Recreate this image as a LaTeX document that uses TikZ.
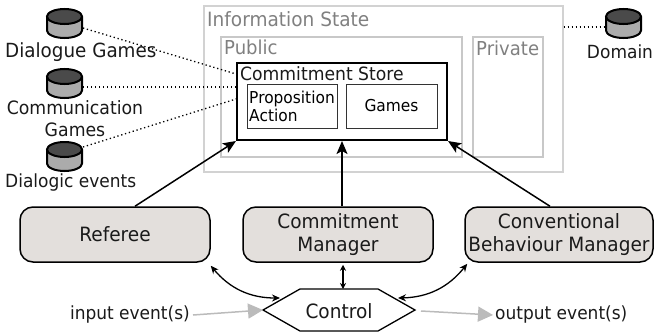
\documentclass[tikz,border=0pt]{standalone}
\usepackage{fontspec}
\setmainfont{DejaVu Sans}[FakeStretch=0.94]
\usetikzlibrary{arrows.meta}
\definecolor{boxfill}{HTML}{E3DFDC}
\definecolor{istate}{HTML}{D2D2D2}
\definecolor{pubc}{HTML}{C8C8C8}
\definecolor{graytext}{HTML}{808080}
\definecolor{cyltop}{HTML}{4A4A4A}
\definecolor{cylbody}{HTML}{ABABAB}
\definecolor{evgray}{HTML}{BBBBBB}
\definecolor{txt}{HTML}{1A1A1A}
\begin{document}
\begin{tikzpicture}[x=1pt,y=-1pt,
  comp/.style={draw=black, line width=1.5pt, fill=boxfill, rounded corners=13pt,
    minimum height=55pt, align=center, inner sep=0pt, text=txt,
    font=\fontsize{19.7}{22.5}\selectfont},
  frame/.style={inner sep=0pt},
  graylabel/.style={anchor=base west, inner sep=0pt, text=graytext},
  inbox/.style={draw=black!80, line width=1pt, minimum height=44pt, inner sep=0pt,
    font=\fontsize{16.4}{18}\selectfont},
  bigarrow/.style={line width=1.5pt, -{Stealth[length=13pt,width=11pt,inset=3pt]}},
  dbl/.style={line width=1.3pt, {Stealth[length=8pt,width=7pt]}-{Stealth[length=8pt,width=7pt]}},
  grayarrow/.style={draw=evgray, line width=1.5pt, -{Triangle[length=15pt,width=15pt,fill=evgray]}},
  dots/.style={line width=1.3pt, dash pattern=on 1.3pt off 2.7pt},
  pics/dbcyl/.style={code={
    \draw[line width=2pt, fill=cylbody] (-17.5pt,-7.5pt) -- (-17.5pt,-21.5pt)
      .. controls (-17.5pt,-25.64pt) and (-9.67pt,-29pt) .. (0pt,-29pt)
      .. controls (9.67pt,-29pt) and (17.5pt,-25.64pt) .. (17.5pt,-21.5pt)
      -- (17.5pt,-7.5pt);
    \draw[line width=2pt, fill=cyltop] (0pt,-7.5pt) ellipse [x radius=17.5pt, y radius=7.5pt];
  }}
]
\useasboundingbox (0,0) rectangle (654,332);

% information state
\node[frame, draw=istate, line width=1.3pt, minimum width=359pt, minimum height=166pt] (is) at (383.5,89) {};
\node[graylabel, font=\fontsize{19.7}{22}\selectfont] (istxt) at (207,27) {Information State};
\node[frame, draw=pubc, line width=2.5pt, minimum width=241pt, minimum height=120pt] (pub) at (341.5,97) {};
\node[graylabel, font=\fontsize{19.2}{22}\selectfont] (pubtxt) at (224,54) {Public};
\node[frame, draw=pubc, line width=2.5pt, minimum width=70pt, minimum height=120pt] (priv) at (508,97) {};
\node[graylabel, font=\fontsize{19.2}{22}\selectfont] (privtxt) at (476,55) {Private};

% commitment store
\node[frame, draw=black, line width=2pt, minimum width=210pt, minimum height=77pt] (cs) at (342,101.5) {};
\node[anchor=base west, inner sep=0pt, text=txt, font=\fontsize{18.3}{20}\selectfont] (cstxt) at (240,80) {Commitment Store};
\node[inbox, minimum width=90pt, align=left] (pa) at (292,106) {Proposition\\Action};
\node[inbox, minimum width=91pt] (gm) at (391.5,106) {Games};

% databases
\pic at (64.5,9) {dbcyl};
\pic at (64.5,69) {dbcyl};
\pic at (64.5,142) {dbcyl};
\pic at (623.5,9) {dbcyl};
\coordinate (dgE) at (83,28);
\coordinate (cgE) at (83,87);
\coordinate (deE) at (83,147);
\coordinate (domW) at (604,27);
\node[anchor=west, inner sep=0pt, text=txt, font=\fontsize{19.5}{22}\selectfont] (dgl) at (5,52) {Dialogue Games};
\node[align=center, inner sep=0pt, text=txt, font=\fontsize{18.4}{22}\selectfont] (cgl) at (75,119) {Communication\\Games};
\node[anchor=west, inner sep=0pt, text=txt, font=\fontsize{18.1}{22}\selectfont] (del) at (5,183) {Dialogic events};
\node[inner sep=0pt, text=txt, font=\fontsize{18.1}{22}\selectfont] (doml) at (620,52) {Domain};

\draw[dots] (dgE) -- ([yshift=-12pt]cs.north west);
\draw[dots] (cgE) -- (cs.north west |- cgE);
\draw[dots] (deE) -- ([yshift=-37pt]cs.north west);
\draw[dots] (is.east |- domW) -- (domW);

% components
\node[comp, minimum width=190pt] (ref) at (115,234.5) {Referee};
\node[comp, minimum width=190pt] (cm) at (338,234.5) {Commitment\\Manager};
\node[comp, minimum width=188pt] (cbm) at (559,234.5) {Conventional\\Behaviour Manager};

% control
\coordinate (hL) at (263,310);
\coordinate (hTL) at (300,289);
\coordinate (hTR) at (378,289);
\coordinate (hR) at (415,310);
\coordinate (hBR) at (378,331);
\coordinate (hBL) at (300,331);
\draw[line width=1.3pt, fill=white] (hL) -- (hTL) -- (hTR) -- (hR) -- (hBR) -- (hBL) -- cycle;
\node[inner sep=0pt, text=txt, font=\fontsize{19.7}{22}\selectfont] (ctl) at (339,311) {Control};

% arrows to commitment store
\draw[bigarrow] ([xshift=20pt]ref.north) -- (cs.south west);
\draw[bigarrow] (cs.south |- cm.north) -- (cs.south);
\draw[bigarrow] ([xshift=-9pt]cbm.north) -- (cs.south east);

% control links
\coordinate (cL) at (280,298);
\coordinate (cR) at (398,298);
\coordinate (cT) at (343,289);
\draw[dbl] ([yshift=-3pt]ref.south east) to[bend right=25] (cL);
\draw[dbl] ([xshift=3pt,yshift=-1pt]cbm.south west) to[bend left=25] (cR);
\draw[line width=1.2pt, {Stealth[length=6pt,width=6pt]}-{Stealth[length=6pt,width=6pt]}] ([xshift=5pt,yshift=-2pt]cm.south) -- (cT);

% events
\node[anchor=east, inner sep=0pt, text=txt, font=\fontsize{18.1}{20}\selectfont] (inev) at (190,315) {input event(s)};
\node[anchor=west, inner sep=0pt, text=txt, font=\fontsize{18.1}{20}\selectfont] (outev) at (495,315) {output event(s)};
\coordinate (oS) at (421,311);
\draw[grayarrow] ([xshift=3pt]inev.east) -- (hL);
\draw[grayarrow] (oS) -- ([xshift=-2pt]outev.west);
\end{tikzpicture}
\end{document}
